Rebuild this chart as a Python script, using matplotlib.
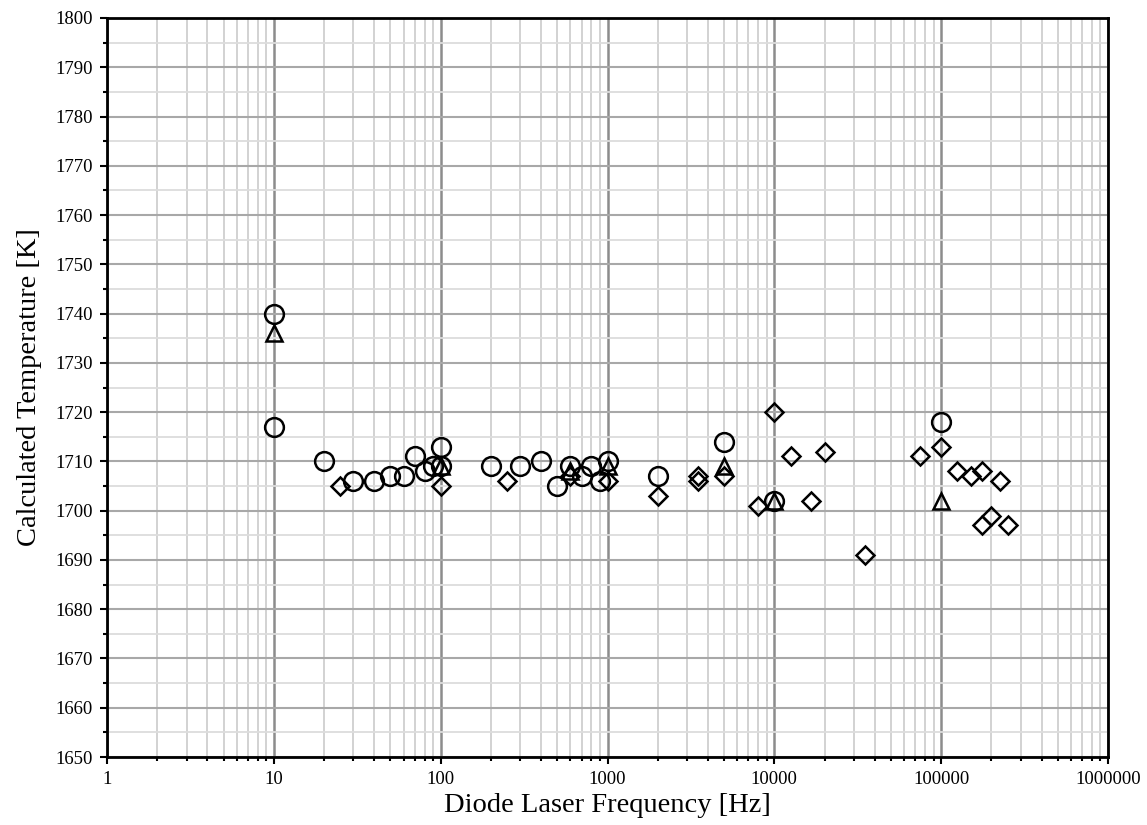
import matplotlib
matplotlib.use("Agg")
import matplotlib.pyplot as plt
from matplotlib.ticker import FixedLocator, LogLocator, NullFormatter, MultipleLocator

# circles
circ_f = [10, 10, 20, 30, 40, 50, 60, 70, 80, 90, 100, 100,
          200, 300, 400, 500, 600, 700, 800, 900, 1000, 2000, 5000, 10000, 100000]
circ_t = [1740, 1717, 1710, 1706, 1706, 1707, 1707, 1711, 1708, 1709, 1713, 1709,
          1709, 1709, 1710, 1705, 1709, 1707, 1709, 1706, 1710, 1707, 1714, 1702, 1718]

# triangles
tri_f = [10, 100, 600, 1000, 5000, 10000, 100000]
tri_t = [1736, 1709, 1708, 1709, 1709, 1702, 1702]

# diamonds
dia_f = [25, 100, 250, 600, 1000, 2000, 3500, 3500, 5000, 8000, 10000, 12500, 16500,
         20000, 35000, 75000, 100000, 125000, 150000, 175000, 225000, 175000, 200000, 250000]
dia_t = [1705, 1705, 1706, 1707, 1706, 1703, 1707, 1706, 1707, 1701, 1720, 1711, 1702,
         1712, 1691, 1711, 1713, 1708, 1707, 1708, 1706, 1697, 1699, 1697]

xticks = [1, 10, 100, 1000, 10000, 100000, 1000000]

plt.rcParams['font.family'] = ['Liberation Serif', 'DejaVu Serif']

fig = plt.figure(figsize=(11.47, 8.25), dpi=100)
ax = fig.add_axes([0.0933, 0.0824, 0.8727, 0.8958])

ax.set_xscale('log')
ax.set_xlim(1, 1e6)
ax.set_ylim(1650, 1800)

ax.xaxis.set_major_locator(FixedLocator(xticks))
ax.set_xticklabels([str(v) for v in xticks])
ax.xaxis.set_minor_locator(LogLocator(base=10, subs=range(2, 10), numticks=20))
ax.xaxis.set_minor_formatter(NullFormatter())
ax.yaxis.set_major_locator(MultipleLocator(10))
ax.yaxis.set_minor_locator(MultipleLocator(5))

ax.grid(which='minor', axis='x', color='#cfcfcf', lw=1.3)
ax.grid(which='major', axis='x', color='#8c8c8c', lw=1.8)
ax.grid(which='minor', axis='y', color='#dcdcdc', lw=1.3)
ax.grid(which='major', axis='y', color='#a8a8a8', lw=1.5)
ax.set_axisbelow(True)

for s in ax.spines.values():
    s.set_linewidth(2)
    s.set_color('black')

ax.tick_params(which='major', direction='out', length=5, width=1.5, labelsize=13.5,
               colors='black', pad=5)
ax.tick_params(which='minor', direction='out', length=3, width=1.5)

mk = dict(linestyle='none', markerfacecolor='none', markeredgecolor='black', markeredgewidth=1.8)
ax.plot(dia_f, dia_t, marker='D', markersize=9.5, **mk)
ax.plot(tri_f, tri_t, marker='^', markersize=12, **mk)
ax.plot(circ_f, circ_t, marker='o', markersize=13.5, **mk)

ax.set_xlabel('Diode Laser Frequency [Hz]', fontsize=20.5, labelpad=4)
ax.set_ylabel('Calculated Temperature [K]', fontsize=20.5, labelpad=10)

fig.savefig('out.png', dpi=100)
